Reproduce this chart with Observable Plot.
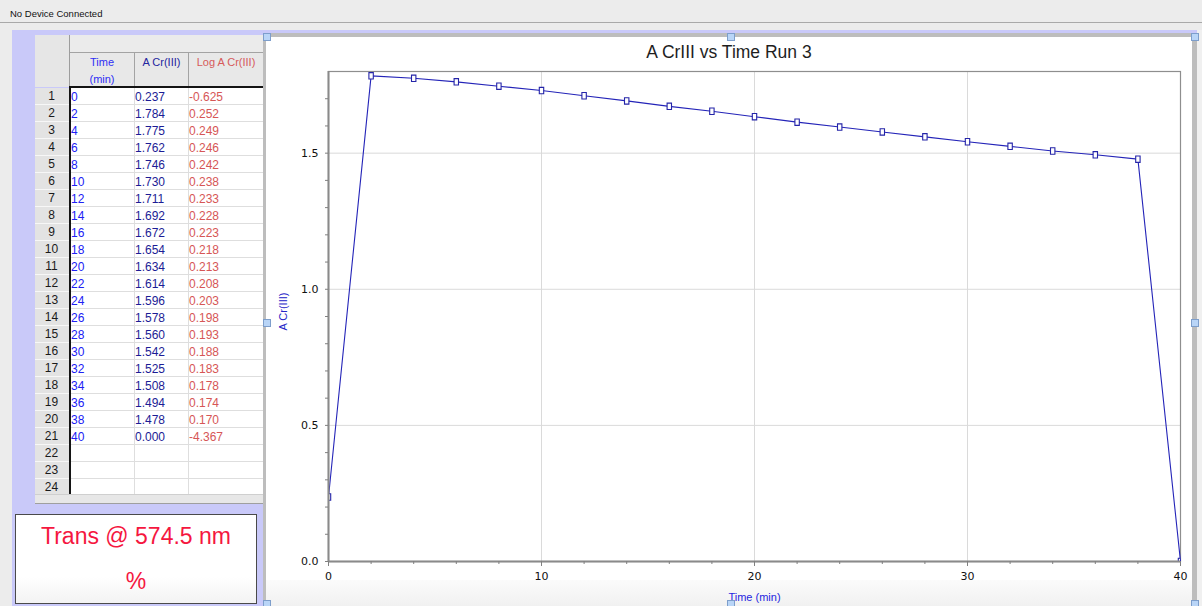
<!DOCTYPE html>
<html><head><meta charset="utf-8">
<script src="https://cdn.jsdelivr.net/npm/d3@7"></script>
<script src="https://cdn.jsdelivr.net/npm/@observablehq/plot@0.6"></script>
<style>
html,body{margin:0;padding:0;}
body{width:1202px;height:606px;position:relative;overflow:hidden;background:#ececec;font-family:"Liberation Sans",Arial,sans-serif;}
.a{position:absolute;box-sizing:border-box;}
.handle{position:absolute;width:8px;height:8px;box-sizing:border-box;background:#b9d5f7;border:1px solid #7d9ecb;z-index:10;}
</style></head><body>
<script>
// ---------- data ----------
const times = [0, 2, 4, 6, 8, 10, 12, 14, 16, 18, 20, 22, 24, 26, 28, 30, 32, 34, 36, 38, 40];
const absorbance = [0.237, 1.784, 1.775, 1.762, 1.746, 1.730, 1.711, 1.692, 1.672, 1.654, 1.634, 1.614, 1.596, 1.578, 1.560, 1.542, 1.525, 1.508, 1.494, 1.478, 0.000];
const logAbsorbance = [-0.625, 0.252, 0.249, 0.246, 0.242, 0.238, 0.233, 0.228, 0.223, 0.218, 0.213, 0.208, 0.203, 0.198, 0.193, 0.188, 0.183, 0.178, 0.174, 0.170, -4.367];
const rowNumbers = [1,2,3,4,5,6,7,8,9,10,11,12,13,14,15,16,17,18,19,20,21,22,23,24];
const headers = [["Time", "(min)"], ["A Cr(III)"], ["Log A Cr(III)"]];
const xMajorTicks = [0, 10, 20, 30, 40];
const xMinorTicks = [2, 4, 6, 8, 12, 14, 16, 18, 22, 24, 26, 28, 32, 34, 36, 38];
const yMajorTicks = [0.0, 0.5, 1.0, 1.5];
const yMinorTicks = [0.1, 0.2, 0.3, 0.4, 0.6, 0.7, 0.8, 0.9, 1.1, 1.2, 1.3, 1.4, 1.6, 1.7];
const xGridValues = [10, 20, 30];
const yGridValues = [0.5, 1.0, 1.5];
const statusText = "No Device Connected";
const chartTitle = "A CrIII vs Time Run 3";
const xLabel = "Time (min)";
const yLabel = "A Cr(III)";
const meterLines = ["Trans @ 574.5 nm", "%"];

// ---------- helpers ----------
function div(css, text, parent) {
  const d = document.createElement("div");
  d.className = "a";
  Object.assign(d.style, css);
  if (text != null) d.textContent = text;
  (parent || document.body).appendChild(d);
  return d;
}
function handle(cx, cy) {
  const h = document.createElement("div");
  h.className = "handle";
  h.style.left = (cx - 4) + "px"; h.style.top = (cy - 4) + "px";
  document.body.appendChild(h);
}

// ---------- window chrome ----------
div({left:"0px", top:"0px", width:"1202px", height:"23px", background:"#ececec", borderBottom:"1px solid #a9a9a9"});
div({left:"10px", top:"8px", fontSize:"9.5px", color:"#111", whiteSpace:"nowrap"}, statusText);
div({left:"12px", top:"30px", width:"1185px", height:"576px", background:"#c9c9f9"});

// ---------- table ----------
const colX = [70, 134, 188, 263];
const txtColors = ["#2020f5", "#1c1c95", "#d65656"];
const hdrColors = ["#2e2ef5", "#25259f", "#d65a5a"];
div({left:"35px", top:"35px", width:"35px", height:"52px", background:"#e6e6e6", borderRight:"1px solid #9d9d9d"});
div({left:"70px", top:"35px", width:"193px", height:"18px", background:"#ebebeb", borderBottom:"1px solid #a3a3a3"});
for (let c = 0; c < 3; c++) {
  const h = div({left: colX[c] + "px", top:"53px", width:(colX[c+1]-colX[c]) + "px", height:"34px",
    background:"#e8e8e8", borderLeft: c ? "1px solid #a3a3a3" : "none", textAlign:"center",
    fontSize:"11px", lineHeight:"17px", color: hdrColors[c], paddingTop:"1px"});
  h.innerHTML = headers[c].join("<br>");
}
const body = div({left:"35px", top:"88px", width:"228px", height:"406px", overflow:"hidden", background:"white"});
rowNumbers.forEach((n, r) => {
  const top = r * 17;
  div({left:"0px", top: top + "px", width:"35px", height:"17px", background:"#e3e3e3",
       borderBottom:"1px solid #f7f7f7", textAlign:"center", fontSize:"12px", lineHeight:"17px", color:"#1a1a1a", paddingRight:"2px"}, String(n), body);
  div({left:"36px", top: top + "px", width:"192px", height:"17px", borderBottom:"1px solid #dedede"}, null, body);
  if (r < times.length) {
    const vals = [String(times[r]), absorbance[r].toFixed(3), logAbsorbance[r].toFixed(3)];
    vals.forEach((v, c) => {
      div({left:(colX[c] - 35 + 1) + "px", top: top + "px", height:"17px", fontSize:"12px", lineHeight:"18px",
           color: txtColors[c], whiteSpace:"nowrap"}, v, body);
    });
  }
});
div({left:"99px", top:"0px", width:"1px", height:"406px", background:"#dedede"}, null, body);
div({left:"153px", top:"0px", width:"1px", height:"406px", background:"#dedede"}, null, body);
div({left:"70px", top:"86px", width:"193px", height:"2px", background:"#141414"});
div({left:"69px", top:"86px", width:"2px", height:"408px", background:"#141414"});
div({left:"35px", top:"494px", width:"228px", height:"10px", background:"#e7e7e7", borderTop:"1px solid #cfcfcf", borderBottom:"1px solid #9f9f9f"});

// ---------- meter box ----------
const meter = div({left:"15px", top:"514px", width:"242px", height:"90px", background:"linear-gradient(#ffffff 70%, #f3f3f3)", border:"1px solid #4a4a4a"});
div({left:"0px", top:"8px", width:"240px", textAlign:"center", fontSize:"23px", lineHeight:"26px", color:"#f5173f"}, meterLines[0], meter);
div({left:"0px", top:"53px", width:"240px", textAlign:"center", fontSize:"23px", lineHeight:"26px", color:"#f5173f"}, meterLines[1], meter);

// ---------- chart panel ----------
div({left:"263px", top:"33px", width:"934px", height:"573px", background:"#bdbdbd"});
div({left:"266px", top:"37px", width:"926px", height:"569px", background:"white"});
div({left:"266px", top:"580px", width:"926px", height:"26px", background:"linear-gradient(#fbfbfb, #f1f1f1)"});
div({left:"1197px", top:"30px", width:"5px", height:"576px", background:"#f0f0f0"});
div({left:"266px", top:"42px", width:"926px", textAlign:"center", fontSize:"17.5px", lineHeight:"20px", color:"#1e1e1e", zIndex:"5"}, chartTitle);

const data = times.map((t, i) => ({t, a: absorbance[i]}));
const tallRect = {draw(ctx) { ctx.moveTo(-2.2, -3.2); ctx.lineTo(2.2, -3.2); ctx.lineTo(2.2, 3.2); ctx.lineTo(-2.2, 3.2); ctx.closePath(); }};
const tickFont = {fontFamily: "DejaVu Sans", fontSize: 11};

const chart = Plot.plot({
  width: 924, height: 570,
  marginLeft: 62, marginRight: 10, marginTop: 35, marginBottom: 45,
  style: {background: "transparent", color: "#111", overflow: "visible"},
  x: {domain: [0, 40], axis: null},
  y: {domain: [0, 1.8], axis: null},
  marks: [
    Plot.gridX(xGridValues, {stroke: "#dadada", strokeOpacity: 1}),
    Plot.gridY(yGridValues, {stroke: "#dadada", strokeOpacity: 1}),
    Plot.frame({stroke: "#8e8e8e", strokeWidth: 1.2}),
    Plot.line(data, {x: "t", y: "a", stroke: "#2424b8", strokeWidth: 1.1}),
    Plot.dot(data, {x: "t", y: "a", symbol: tallRect, stroke: "#2424a8", fill: "white", strokeWidth: 1.1, clip: true}),
    Plot.ruleX([0], {stroke: "#8a8a8a", strokeWidth: 2}),
    Plot.ruleY([0], {stroke: "#8a8a8a", strokeWidth: 2}),
    Plot.axisX(xMinorTicks, {tickSize: 3, tickFormat: () => "", stroke: "#808080", label: null}),
    Plot.axisX(xMajorTicks, {tickSize: 5, tickPadding: 6, stroke: "#808080", fill: "#111", label: null, ...tickFont}),
    Plot.axisY(yMinorTicks, {tickSize: 3, tickFormat: () => "", stroke: "#808080", label: null}),
    Plot.axisY(yMajorTicks, {tickSize: 3, tickPadding: 7, tickFormat: d3.format(".1f"), stroke: "#808080", fill: "#111", label: null, ...tickFont}),
    Plot.text([xLabel], {frameAnchor: "bottom", dy: 36, lineAnchor: "middle", textAnchor: "middle", fill: "#2525e0", fontFamily: "Liberation Sans", fontSize: 11}),
    Plot.text([yLabel], {frameAnchor: "left", dx: -45, dy: -5, rotate: -90, lineAnchor: "middle", textAnchor: "middle", fill: "#2525c8", fontFamily: "Liberation Sans", fontSize: 11})
  ]
});
const holder = div({left:"266px", top:"36px", width:"924px", height:"570px", zIndex:"3"});
holder.appendChild(chart);

// ---------- handles ----------
[[267,37],[731,37],[1195,37],[267,323],[1195,323],[267,604],[731,604],[1195,604]].forEach(([x,y]) => handle(x,y));
</script>
</body></html>
